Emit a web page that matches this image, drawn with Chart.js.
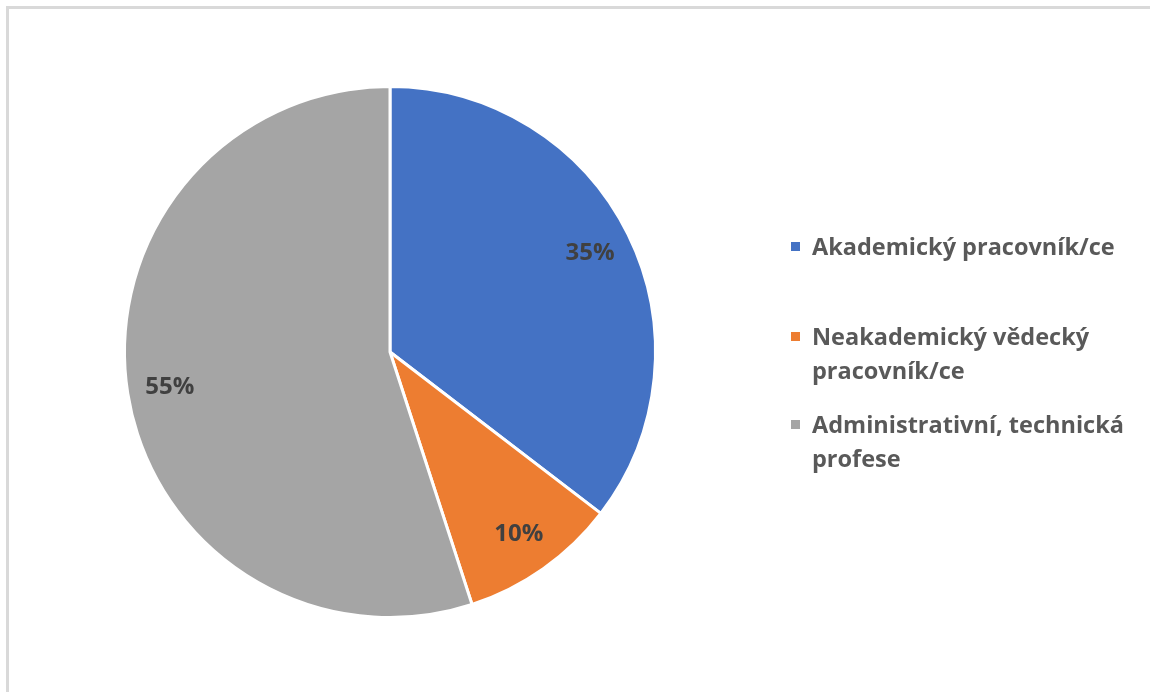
<!DOCTYPE html>
<html>
<head>
<meta charset="utf-8">
<script src="https://cdn.jsdelivr.net/npm/chart.js@4/dist/chart.umd.min.js"></script>
<style>
    html, body { margin: 0; padding: 0; background: #fff; }
    #wrap { position: relative; width: 1150px; height: 692px; overflow: hidden; }
    #frame { position: absolute; left: 6px; top: 6px; width: 1200px; height: 750px;
             border-top: 3px solid #d9d9d9; border-left: 3px solid #d9d9d9; box-sizing: border-box; }
    #pieChart { position: absolute; left: 0; top: 0; }
    #legend { position: absolute; left: 791px; top: 0; font-family: "Open Sans", sans-serif;
              font-weight: bold; font-size: 23.5px; color: #595959; }
    .item { position: absolute; left: 0; white-space: nowrap; line-height: 34px; padding-left: 21px; }
    .item span.box { position: absolute; left: 0; top: 13px; width: 9px; height: 9px; }
</style>
</head>
<body>
<div id="wrap">
    <div id="frame"></div>
    <canvas id="pieChart" width="1150" height="692"></canvas>
    <div id="legend"></div>
</div>
<script>
    // Données du graphique (libellés découpés en lignes comme dans la légende)
    const categories = [
        ['Akademický pracovník/ce'],
        ['Neakademický vědecký', 'pracovník/ce'],
        ['Administrativní, technická', 'profese']
    ];
    const values = [35.4, 9.6, 55.0];
    const colors = ['#4472C4', '#ED7D31', '#A5A5A5'];

    // Étiquettes en pourcentage dans les parts
    const pctLabels = {
        id: 'pctLabels',
        afterDatasetsDraw(chart) {
            const ctx = chart.ctx;
            const data = chart.data.datasets[0].data;
            const total = data.reduce((a, b) => a + b, 0);
            ctx.save();
            ctx.font = 'bold 24px "Open Sans", sans-serif';
            ctx.fillStyle = '#404040';
            ctx.textAlign = 'center';
            ctx.textBaseline = 'middle';
            chart.getDatasetMeta(0).data.forEach((arc, i) => {
                const p = arc.getProps(['x', 'y', 'startAngle', 'endAngle', 'outerRadius'], true);
                const mid = (p.startAngle + p.endAngle) / 2;
                const r = p.outerRadius * 0.84;
                ctx.fillText(Math.round(data[i] / total * 100) + '%', p.x + Math.cos(mid) * r, p.y + Math.sin(mid) * r);
            });
            ctx.restore();
        }
    };

    const chart = new Chart(document.getElementById('pieChart'), {
        type: 'pie',
        data: {
            labels: categories,
            datasets: [{
                data: values,
                backgroundColor: colors,
                borderColor: '#ffffff',
                borderWidth: 3
            }]
        },
        options: {
            responsive: false,
            animation: false,
            layout: { padding: { left: 123, right: 493, top: 85, bottom: 73 } },
            plugins: {
                legend: { display: false },
                tooltip: { enabled: false }
            }
        },
        plugins: [pctLabels]
    });

    // Légende HTML à droite
    const legendTops = [229, 319, 407];
    const legend = document.getElementById('legend');
    chart.data.labels.forEach((label, i) => {
        const item = document.createElement('div');
        item.className = 'item';
        item.style.top = legendTops[i] + 'px';
        item.innerHTML = '<span class="box" style="background:' + colors[i] + '"></span>' + label.join('<br>');
        legend.appendChild(item);
    });
</script>
</body>
</html>
